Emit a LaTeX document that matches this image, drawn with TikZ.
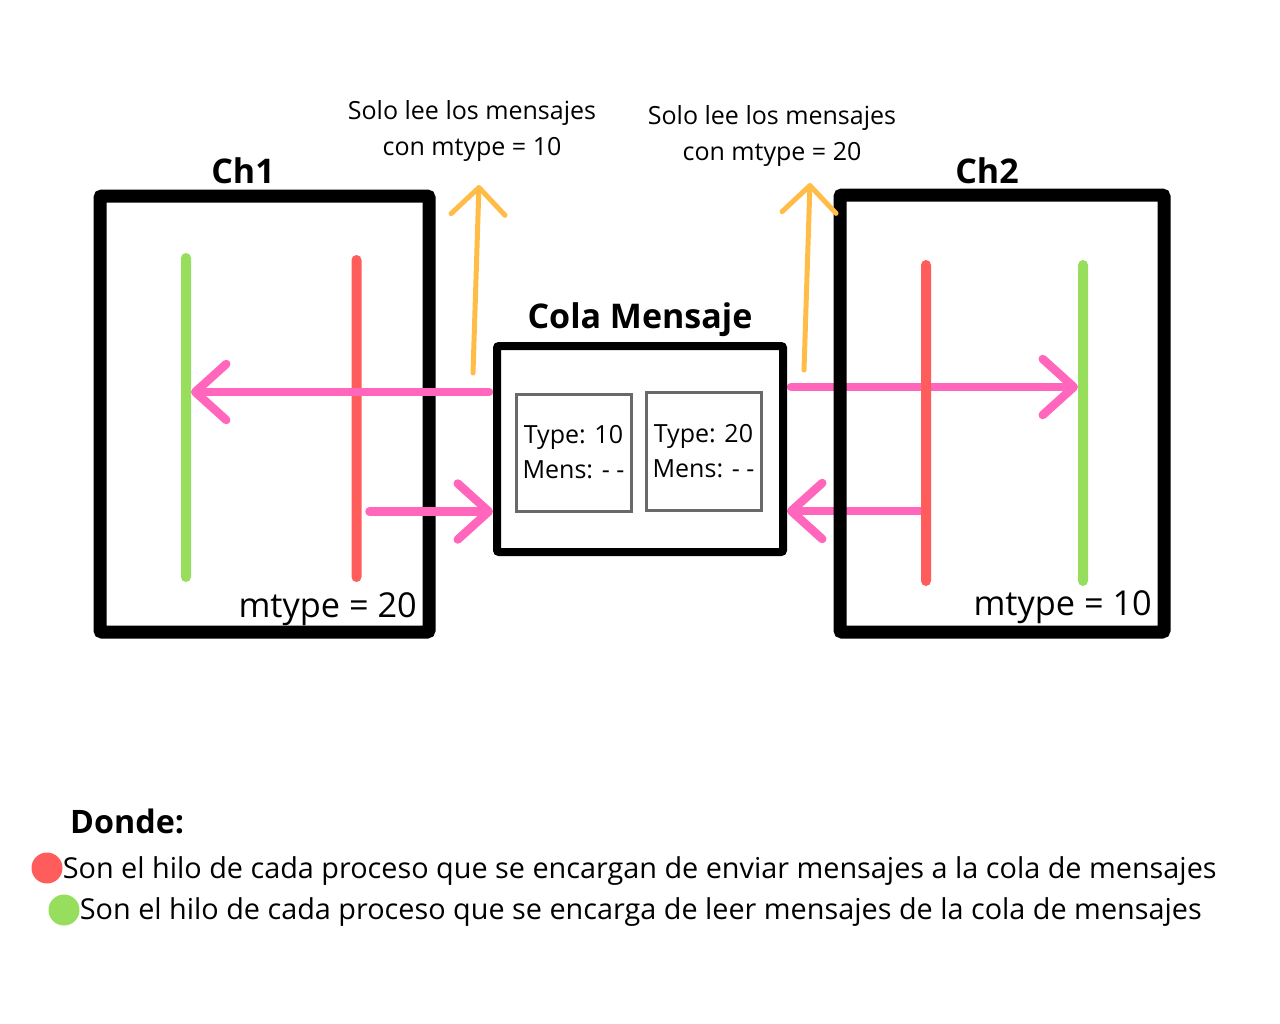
\documentclass[tikz,border=0pt]{standalone}
\usepackage{fontspec}
\setmainfont{Open Sans}
\usetikzlibrary{arrows.meta,positioning}
\pgfdeclarelayer{fondo}
\pgfsetlayers{fondo,main}
\definecolor{verde}{RGB}{150,222,92}
\definecolor{rojo}{RGB}{255,92,92}
\definecolor{rosa}{RGB}{255,102,188}
\definecolor{naranja}{RGB}{255,189,72}
\definecolor{gris}{RGB}{105,105,105}

\begin{document}
\begin{tikzpicture}[x=1pt,y=-1pt,
	caja/.style={draw,line width=13pt,inner sep=0pt,rounded corners=2pt},
	tipo/.style={draw=gris,line width=3pt,minimum width=115pt,minimum height=117pt,inner sep=0pt,align=center,font=\fontsize{25}{35}\selectfont},
	hilo/.style={inner sep=0pt,outer sep=0pt,minimum width=10pt,rounded corners=5pt},
	titulo/.style={inner sep=0pt,font=\fontsize{34}{40}\selectfont\bfseries},
	etiqueta/.style={inner sep=0pt,font=\fontsize{34.3}{40}\selectfont},
	nota/.style={inner sep=0pt,align=center,font=\fontsize{25}{36}\selectfont},
	leyenda/.style={inner sep=0pt,font=\fontsize{28.8}{32}\selectfont},
	punto/.style={circle,inner sep=0pt,minimum size=31pt},
	flecha/.style={draw=rosa,line width=8.5pt,line cap=round,-{Straight Barb[length=31pt,width=56pt,round]}},
	lectura/.style={draw=naranja,line width=5pt,line cap=round,-{Straight Barb[length=27pt,width=54pt,round]}}]

	\useasboundingbox (0,0) rectangle (1280,1023);

	% procesos y cola
	\node[caja,minimum width=329pt,minimum height=436pt] (ch1) at (264.5,414) {};
	\node[caja,minimum width=324pt,minimum height=437pt] (ch2) at (1002,413.5) {};
	\node[caja,line width=8pt,minimum width=286pt,minimum height=206pt] (cola) at (640,449) {};
	\node[tipo] (t10) at (573.5,452.5) {Type: 10\\Mens: - -};
	\node[tipo,minimum height=118pt] (t20) at (703.5,451) {Type: 20\\Mens: - -};

	\node[titulo,anchor=base] (n1) at (243,183) {Ch1};
	\node[titulo,anchor=base] (n2) at (987,183) {Ch2};
	\node[titulo,anchor=base] (nc) at (640,328) {Cola Mensaje};
	\node[etiqueta,anchor=base east] (m1) at (417,617) {mtype = 20};
	\node[etiqueta,anchor=base east] (m2) at (1152,615) {mtype = 10};

	% hilos
	\node[hilo,fill=verde,minimum height=329pt] (v1) at (186,417.5) {};
	\node[hilo,fill=rojo,minimum height=327pt] (r1) at (356.5,418.5) {};
	\node[hilo,fill=rojo,minimum height=326pt] (r2) at (926,423) {};
	\node[hilo,fill=verde,minimum height=326pt] (v2) at (1083,423) {};

	\coordinate (nivel1) at (0,392);
	\coordinate (nivel2) at (0,511.5);
	\coordinate (nivel3) at (0,387);
	\coordinate (nivel4) at (0,511);

	\path
	(cola.west |- nivel1) edge[flecha,shorten <=4pt] (v1.east |- nivel1)
	(r1.east |- nivel2) edge[flecha,shorten <=8pt] (cola.west |- nivel2);
	\begin{pgfonlayer}{fondo}
		\path
		(cola.east |- nivel3) edge[flecha,shorten <=4pt] (v2.west |- nivel3)
		(r2.west |- nivel4) edge[flecha] (cola.east |- nivel4);
	\end{pgfonlayer}

	% lectura por tipo
	\coordinate (o1) at (473,373);
	\coordinate (o1t) at (479,185);
	\coordinate (o2) at (804,370);
	\coordinate (o2t) at (810,183);
	\draw[lectura] (o1) -- (o1t);
	\draw[lectura] (o2) -- (o2t);
	\node[nota] (s1) at (472,131) {Solo lee los mensajes\\con mtype = 10};
	\node[nota] (s2) at (772,136) {Solo lee los mensajes\\con mtype = 20};

	% leyenda
	\node[titulo,font=\fontsize{32.3}{38}\selectfont\bfseries,anchor=base west] (dn) at (70,833) {Donde:};
	\node[punto,fill=rojo] (pr) at (47,868) {};
	\node[punto,fill=verde] (pv) at (64,910) {};
	\node[leyenda,right=0pt of pr,yshift=-3pt] (l1) {Son el hilo de cada proceso que se encargan de enviar mensajes a la cola de mensajes};
	\node[leyenda,right=0pt of pv,yshift=-2pt] (l2) {Son el hilo de cada proceso que se encarga de leer mensajes de la cola de mensajes};
\end{tikzpicture}
\end{document}
